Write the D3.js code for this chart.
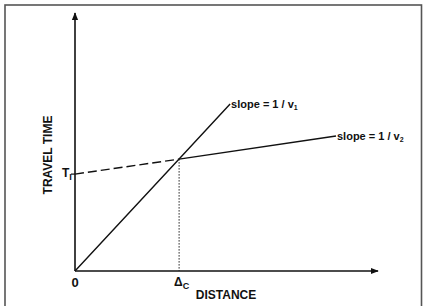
<!DOCTYPE html>
<html>
<head>
<meta charset="utf-8">
<script src="https://cdn.jsdelivr.net/npm/d3@7"></script>
<style>
  body { margin: 0; background: #fff; }
  text { font-family: "Liberation Sans Narrow", "Arial Narrow", "Liberation Sans", sans-serif; font-weight: bold; fill: #111; }
</style>
</head>
<body>
<div id="chart"></div>
<script>
// travel-time curves (distance, time) in arbitrary units
var directWave = [[0, 0], [34.7, 37.3], [51.7, 55.7]]   // slope = 1/v1
var refractedDashed = [[0, 32.3], [34.7, 37.3]]          // extrapolated to intercept Ti
var refractedSolid = [[34.7, 37.3], [87, 45]]            // slope = 1/v2
var crossover = 34.7
var intercept = 32.3
var xTickLabels = ['0', 'Δ']
var labels1 = ['slope = 1 / v', '1']
var labels2 = ['slope = 1 / v', '2']

var svg = d3.select('#chart')
            .append('svg')
              .attr('width', 426)
              .attr('height', 306)

// border
svg.append('rect')
    .attr('x', 5)
    .attr('y', 5)
    .attr('width', 416.5)
    .attr('height', 310)
    .style('fill', 'none')
    .style('stroke', '#555')
    .style('stroke-width', '1.6px')

var x = d3.scaleLinear().domain([0, 101]).range([75, 378])
var y = d3.scaleLinear().domain([0, 85]).range([271, 16])

var defs = svg.append('defs')
defs.append('marker')
    .attr('id', 'arrow')
    .attr('viewBox', '0 0 10 10')
    .attr('refX', 9)
    .attr('refY', 5)
    .attr('markerWidth', 8)
    .attr('markerHeight', 8)
    .attr('markerUnits', 'userSpaceOnUse')
    .attr('orient', 'auto')
  .append('path')
    .attr('d', 'M0,1 L10,5 L0,9 Z')
    .style('fill', '#111')

// axes
svg.append('line')
    .attr('x1', x(0)).attr('y1', y(0))
    .attr('x2', x(101)).attr('y2', y(0))
    .style('stroke', '#111')
    .style('stroke-width', '1.6px')
    .attr('marker-end', 'url(#arrow)')
svg.append('line')
    .attr('x1', x(0)).attr('y1', y(0))
    .attr('x2', x(0)).attr('y2', y(86))
    .style('stroke', '#111')
    .style('stroke-width', '1.6px')
    .attr('marker-end', 'url(#arrow)')

var line = d3.line().x(d => x(d[0])).y(d => y(d[1]))

svg.append('path')
    .attr('d', line(directWave))
    .style('fill', 'none')
    .style('stroke', '#111')
    .style('stroke-width', '1.4px')
svg.append('path')
    .attr('d', line(refractedDashed))
    .style('fill', 'none')
    .style('stroke', '#111')
    .style('stroke-width', '1.4px')
    .style('stroke-dasharray', '9,4')
svg.append('path')
    .attr('d', line(refractedSolid))
    .style('fill', 'none')
    .style('stroke', '#111')
    .style('stroke-width', '1.4px')

// crossover dotted drop line
svg.append('line')
    .attr('x1', x(crossover)).attr('y1', y(37.3))
    .attr('x2', x(crossover)).attr('y2', y(0))
    .style('stroke', '#222')
    .style('stroke-width', '1px')
    .style('stroke-dasharray', '1.5,1.5')

// intercept tick
svg.append('line')
    .attr('x1', x(0) - 4).attr('y1', y(intercept))
    .attr('x2', x(0)).attr('y2', y(intercept))
    .style('stroke', '#111')
    .style('stroke-width', '1.2px')

// tick labels
svg.append('text')
    .attr('x', x(0))
    .attr('y', y(0) + 16)
    .attr('text-anchor', 'middle')
    .style('font-size', '13px')
    .text(xTickLabels[0])
var dc = svg.append('text')
    .attr('x', x(crossover) - 5)
    .attr('y', y(0) + 15)
    .style('font-size', '12px')
dc.append('tspan').text(xTickLabels[1])
dc.append('tspan').attr('dy', 3).style('font-size', '9px').text('C')

var ti = svg.append('text')
    .attr('x', x(0) - 13)
    .attr('y', y(intercept) + 3)
    .style('font-size', '12px')
ti.append('tspan').text('T')
ti.append('tspan').attr('dy', 3).style('font-size', '9px').text('I')

// slope labels
function slopeLabel(pt, parts) {
  var t = svg.append('text')
      .attr('x', x(pt[0]) + 1)
      .attr('y', y(pt[1]) + 4)
      .style('font-size', '11px')
  t.append('tspan').text(parts[0])
  t.append('tspan').attr('dy', 2).style('font-size', '7px').text(parts[1])
}
slopeLabel(directWave[2], labels1)
slopeLabel(refractedSolid[1], labels2)

// axis titles
svg.append('text')
    .attr('x', 226)
    .attr('y', 299)
    .attr('text-anchor', 'middle')
    .style('font-size', '12px')
    .text('DISTANCE')
svg.append('text')
    .attr('transform', 'translate(52,155) rotate(-90)')
    .attr('text-anchor', 'middle')
    .style('font-size', '12px')
    .text('TRAVEL TIME')
</script>
</body>
</html>
